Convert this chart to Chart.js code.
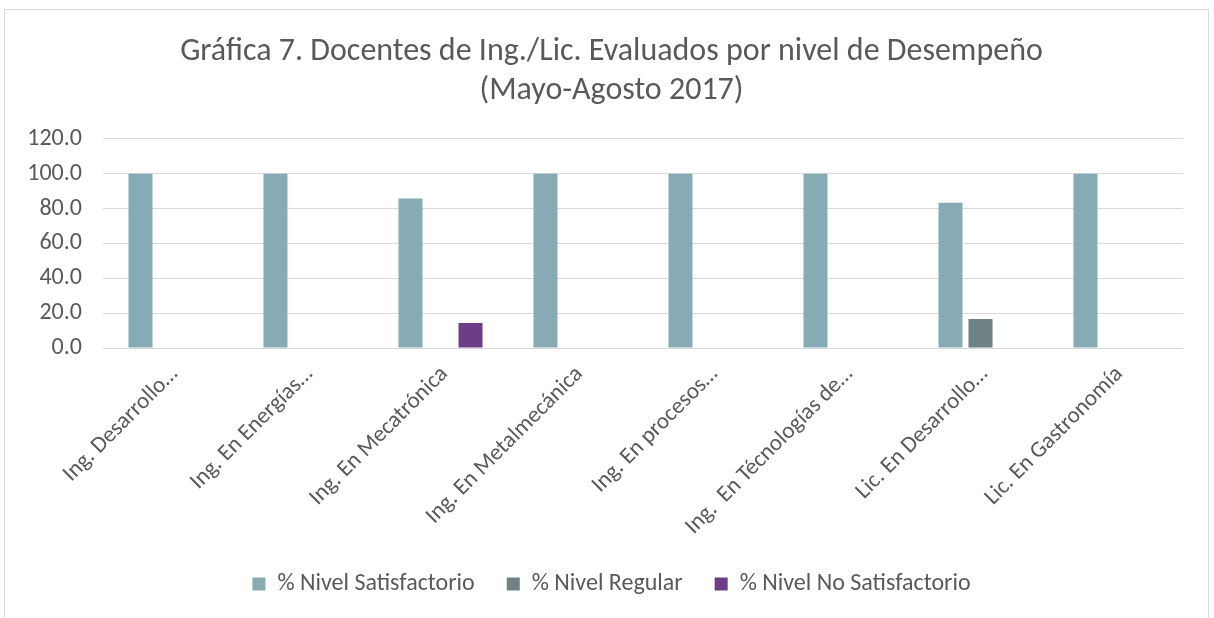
<!DOCTYPE html>
<html>
<head>
<meta charset="utf-8">
<script src="https://cdn.jsdelivr.net/npm/chart.js@4"></script>
<style>
  html, body { margin: 0; padding: 0; background: #fff; }
  #wrap { position: relative; width: 1214px; height: 618px; overflow: hidden; }
  #frame { position: absolute; left: 4px; top: 9px; width: 1203px; height: 640px; border: 1px solid #d9d9d9; }
  #grafica { position: absolute; left: 0; top: 0; }
</style>
</head>
<body>
<div id="wrap">
  <div id="frame"></div>
  <canvas id="grafica" width="1214" height="618"></canvas>
</div>
<script>
// carreras y porcentajes por nivel
var carreras = [
  "Ing. Desarrollo…",
  "Ing. En Energías…",
  "Ing. En Mecatrónica",
  "Ing. En Metalmecánica",
  "Ing. En procesos…",
  "Ing.  En Técnologías de…",
  "Lic. En Desarrollo…",
  "Lic. En Gastronomía"
];
var nivelSatisfactorio = [100, 100, 85.7, 100, 100, 100, 83.3, 100];
var nivelRegular = [0, 0, 0, 0, 0, 0, 16.7, 0];
var nivelNoSatisfactorio = [0, 0, 14.3, 0, 0, 0, 0, 0];
var tituloGrafica = ["Gráfica 7. Docentes de Ing./Lic. Evaluados por nivel de Desempeño", "(Mayo-Agosto 2017)"];

var fuente = "Carlito, Lato, 'Open Sans', sans-serif";
var gris = "#595959";

var ctx = document.getElementById("grafica").getContext("2d");
var grafica = new Chart(ctx, {
  type: "bar",
  data: {
    labels: carreras,
    datasets: [
      { label: "% Nivel Satisfactorio", data: nivelSatisfactorio, backgroundColor: "#86abb5" },
      { label: "% Nivel Regular", data: nivelRegular, backgroundColor: "#6e8183" },
      { label: "% Nivel No Satisfactorio", data: nivelNoSatisfactorio, backgroundColor: "#6f3d88" }
    ]
  },
  options: {
    responsive: false,
    animation: false,
    barPercentage: 0.8,
    categoryPercentage: 0.667,
    layout: { padding: { left: 20, right: 11, top: 0, bottom: 12 } },
    scales: {
      x: {
        grid: { display: false },
        border: { display: false },
        ticks: {
          color: gris,
          font: { family: fuente, size: 23 },
          minRotation: 45,
          maxRotation: 45,
          autoSkip: false,
          padding: 5,
          labelOffset: 4
        },
        afterFit: function(scale) {
          scale.height = 192;
        }
      },
      y: {
        min: 0,
        max: 120,
        grid: { color: "#d9d9d9", lineWidth: 1, drawTicks: false },
        border: { display: false },
        ticks: {
          stepSize: 20,
          color: gris,
          padding: 21,
          font: { family: fuente, size: 24 },
          callback: function(v) { return v.toFixed(1); }
        },
        afterFit: function(scale) {
          scale.width = 83;
        }
      },
      // eje vacío a la derecha, solo para reservar margen
      margenDerecho: {
        position: "right",
        grid: { display: false },
        border: { display: false },
        ticks: { display: false },
        afterFit: function(scale) {
          scale.width = 20;
        }
      }
    },
    plugins: {
      title: {
        display: true,
        text: tituloGrafica,
        color: gris,
        font: { family: fuente, size: 32, weight: "normal", lineHeight: 1.2 },
        padding: { top: 33, bottom: 29 }
      },
      legend: {
        position: "bottom",
        labels: {
          color: gris,
          font: { family: fuente, size: 24 },
          boxWidth: 13,
          boxHeight: 13,
          padding: 32
        }
      },
      tooltip: { enabled: false }
    }
  }
});
</script>
</body>
</html>
